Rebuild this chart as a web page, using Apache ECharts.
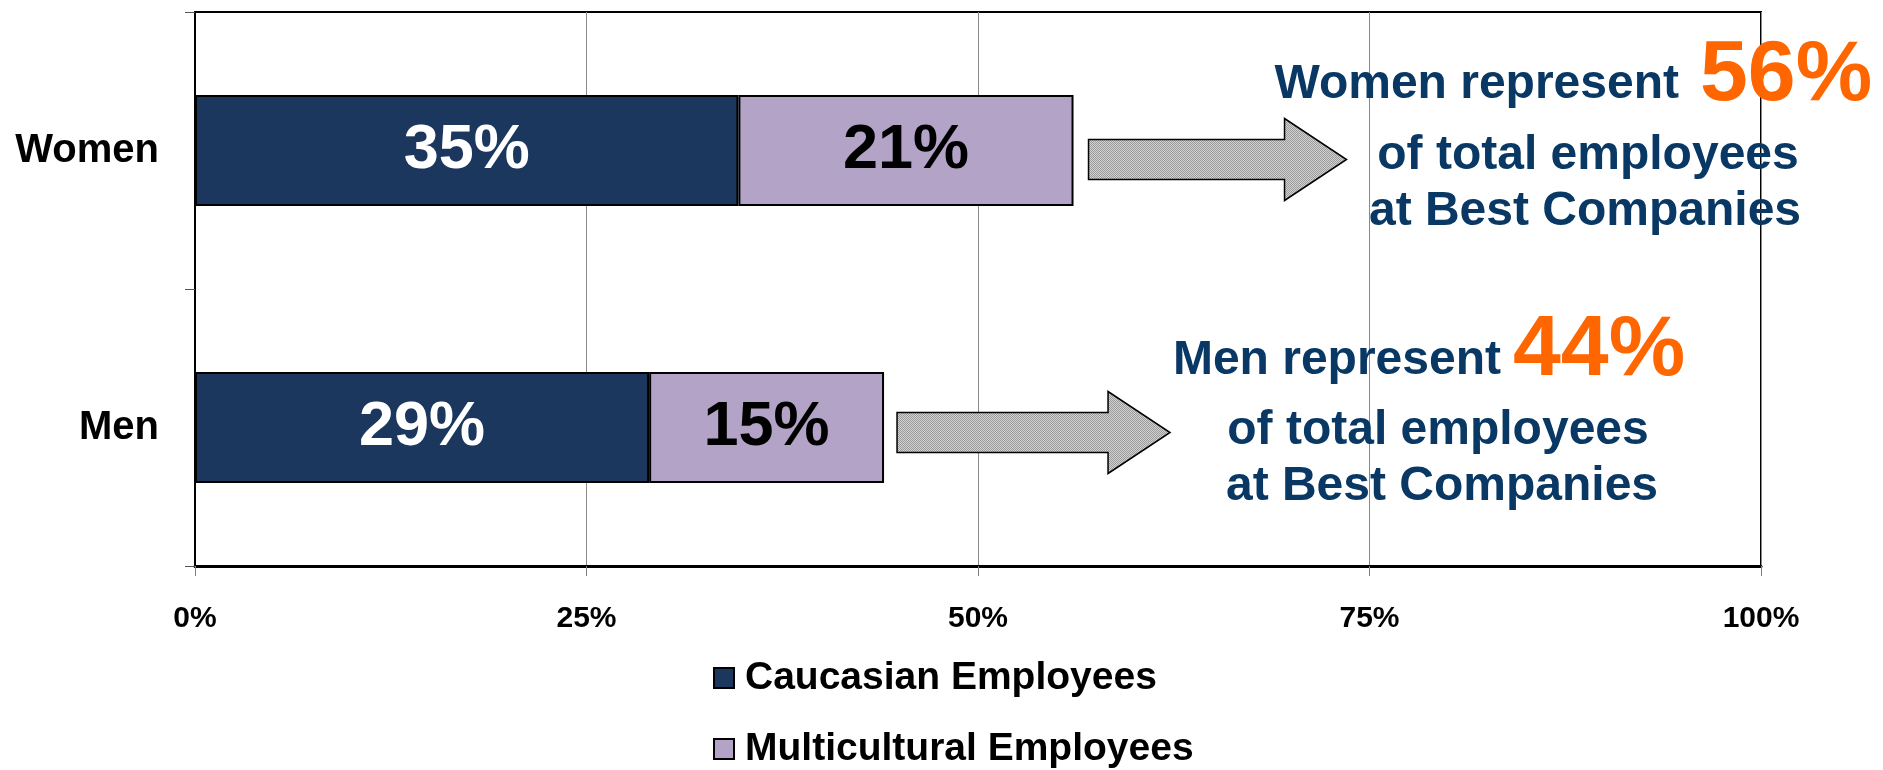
<!DOCTYPE html>
<html><head><meta charset="utf-8">
<script src="https://cdn.jsdelivr.net/npm/echarts@6/dist/echarts.min.js"></script>
<style>html,body{margin:0;padding:0;background:#fff}#c{width:1883px;height:770px}</style>
</head><body><div id="c"></div>
<script>
// ---- data ----
const categories = ['Women', 'Men'];
const caucasian = [34.7, 29.0];
const multicultural = [21.4, 15.0];
const seriesNames = ['Caucasian Employees', 'Multicultural Employees'];
const xMin = 0, xMax = 100, xInterval = 25;

const FONT = '"Liberation Sans", Arial, sans-serif';
const NAVY = '#1b375e', LAV = '#b3a3c7', TXT = '#0a3864', ORANGE = '#ff6600';

const chart = echarts.init(document.getElementById('c'), null, {renderer: 'canvas'});

function legendFor(name, top) {
  return {
    orient: 'vertical', left: 713, top: top, padding: 0, itemWidth: 20, itemHeight: 20, itemGap: 0,
    icon: 'rect',
    itemStyle: {borderColor: '#000', borderWidth: 2},
    textStyle: {fontSize: 39, fontWeight: 'bold', color: '#000', lineHeight: 40, fontFamily: FONT, padding: [0, 0, 0, 6]},
    data: [name]
  };
}

chart.setOption({
  animation: false,
  textStyle: {fontFamily: FONT},
  grid: {left: 195, right: 122, top: 12, bottom: 204, show: true, borderColor: '#000', borderWidth: 2, backgroundColor: 'transparent'},
  xAxis: {
    type: 'value', min: xMin, max: xMax, interval: xInterval,
    axisLine: {show: true, lineStyle: {color: '#000', width: 3}},
    axisTick: {show: true, length: 10, lineStyle: {color: '#808080'}},
    splitLine: {show: true, lineStyle: {color: '#8a8a8a', width: 1}},
    axisLabel: {formatter: '{value}%', fontSize: 30, fontWeight: 'bold', color: '#000', margin: 38, fontFamily: FONT}
  },
  yAxis: {
    type: 'category', data: categories, inverse: true,
    axisLine: {show: true, lineStyle: {color: '#000', width: 2}},
    axisTick: {show: true, length: 10, lineStyle: {color: '#555'}},
    axisLabel: {fontSize: 40, fontWeight: 'bold', color: '#000', margin: 36, fontFamily: FONT, padding: [10, 0, 0, 0]}
  },
  legend: [legendFor(seriesNames[0], 658), legendFor(seriesNames[1], 729)],
  series: [
    {
      name: seriesNames[0], type: 'bar', stack: 'total', barWidth: '40%', data: caucasian,
      itemStyle: {color: NAVY, borderColor: '#000', borderWidth: 2},
      label: {show: true, position: 'inside', formatter: p => Math.round(p.value) + '%', color: '#fff', fontSize: 63, fontWeight: 'bold', fontFamily: FONT}
    },
    {
      name: seriesNames[1], type: 'bar', stack: 'total', barWidth: '40%', data: multicultural,
      itemStyle: {color: LAV, borderColor: '#000', borderWidth: 2},
      label: {show: true, position: 'inside', formatter: p => Math.round(p.value) + '%', color: '#000', fontSize: 63, fontWeight: 'bold', fontFamily: FONT}
    }
  ]
});

// ---- annotations: arrows and text, placed relative to bars ----
const pat = document.createElement('canvas');
pat.width = 2; pat.height = 2;
const pc = pat.getContext('2d');
pc.fillStyle = '#d2d2d2'; pc.fillRect(0, 0, 2, 2);
pc.fillStyle = '#9a9a9a'; pc.fillRect(0, 0, 1, 1); pc.fillRect(1, 1, 1, 1);

function arrow(x0, cy, L) {
  const hl = 62, sh = 20, hh = 41;
  return {
    type: 'polygon', z: 10,
    shape: {points: [[x0, cy - sh], [x0 + L - hl, cy - sh], [x0 + L - hl, cy - hh], [x0 + L, cy], [x0 + L - hl, cy + hh], [x0 + L - hl, cy + sh], [x0, cy + sh]]},
    style: {fill: {image: pat, repeat: 'repeat'}, stroke: '#000', lineWidth: 1.5}
  };
}
function txt(text, x, baseline, fs, color, align) {
  return {
    type: 'text', z: 20, x: x, y: baseline - 0.3465 * fs,
    style: {text: text, font: 'bold ' + fs + 'px ' + FONT, fill: color, align: align, verticalAlign: 'middle'}
  };
}

const totals = caucasian.map((v, i) => v + multicultural[i]);
const endW = chart.convertToPixel({xAxisIndex: 0}, totals[0]);
const endM = chart.convertToPixel({xAxisIndex: 0}, totals[1]);
const cyW = chart.convertToPixel({yAxisIndex: 0}, categories[0]);
const cyM = chart.convertToPixel({yAxisIndex: 0}, categories[1]);

chart.setOption({
  graphic: [
    arrow(endW + 15, cyW + 9, 258),
    arrow(endM + 13, cyM + 5, 273),
    txt(categories[0] + ' represent', 1679, 101, 48, TXT, 'right'),
    txt(Math.round(totals[0]) + '%', 1700, 106, 86, ORANGE, 'left'),
    txt('of total employees', 1588, 172, 48, TXT, 'center'),
    txt('at Best Companies', 1585, 228, 48, TXT, 'center'),
    txt(categories[1] + ' represent', 1501, 377, 48, TXT, 'right'),
    txt(Math.round(totals[1]) + '%', 1513, 381, 86, ORANGE, 'left'),
    txt('of total employees', 1438, 447, 48, TXT, 'center'),
    txt('at Best Companies', 1442, 503, 48, TXT, 'center')
  ]
});
</script>
</body></html>
